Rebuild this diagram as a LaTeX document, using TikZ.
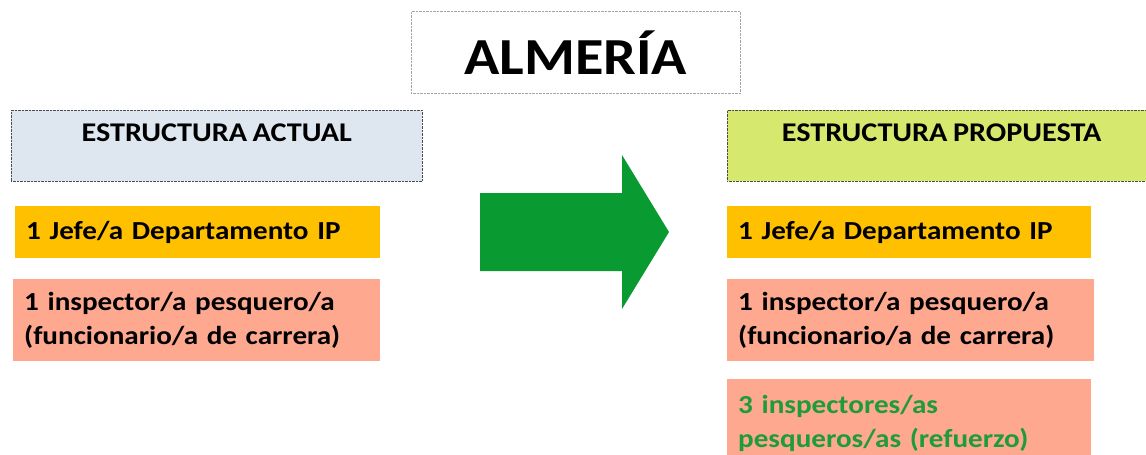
\documentclass[tikz,border=0pt]{standalone}
\usepackage{fontspec}
\setmainfont{Carlito}[FakeStretch=1.12,WordSpace=0.8]
\usetikzlibrary{positioning}

\definecolor{hdrblue}{HTML}{DEE6EF}
\definecolor{hdrlime}{HTML}{D6E96E}
\definecolor{jefegold}{HTML}{FFC000}
\definecolor{inspsalmon}{HTML}{FDA88F}
\definecolor{arrowgreen}{HTML}{0A9A32}
\definecolor{refgreen}{HTML}{1E9B3B}

\begin{document}
\begin{tikzpicture}[x=1pt,y=-1pt,
    every node/.style={font=\bfseries\fontsize{26}{34}\selectfont,inner ysep=0pt},
    titlebox/.style={draw=gray!70,densely dotted,minimum width=329,minimum height=82,anchor=north west},
    header/.style={draw=black!70,densely dotted,minimum width=411,minimum height=71,anchor=north west},
    hdrtext/.style={font=\bfseries\fontsize{27}{34}\selectfont,below=14pt},
    item/.style={anchor=north west,inner xsep=11pt,align=left,draw=none}]

  \useasboundingbox (0,0) rectangle (1146,455);
  \clip (0,0) rectangle (1146,455);

  % title
  \node[titlebox] (title) at (411,11) {};
  \node[font=\bfseries\fontsize{52}{56}\selectfont] (titletxt) at (title.center) {ALMERÍA};

  % current structure
  \node[header,fill=hdrblue] (actual) at (11,110) {};
  \node[hdrtext] at (actual.north) (actualtxt) {ESTRUCTURA ACTUAL};
  \node[item,fill=jefegold,text width=343,minimum height=52] (jefeA) at (15,206) {1 Jefe/a Departamento IP};
  \node[item,fill=inspsalmon,text width=345,minimum height=82] (inspA) at (13,279)
       {1 inspector/a pesquero/a\\(funcionario/a de carrera)};

  % arrow
  \fill[arrowgreen] (480,193) -- (622,193) -- (622,155) -- (669,232)
                    -- (622,309) -- (622,271) -- (480,271) -- cycle;

  % proposed structure
  \node[header,fill=hdrlime,minimum width=429] (propuesta) at (727,110) {};
  \node[hdrtext] at (propuesta.north) (propuestatxt) {ESTRUCTURA PROPUESTA};
  \node[item,fill=jefegold,text width=342,minimum height=52] (jefeB) at (727,206) {1 Jefe/a Departamento IP};
  \node[item,fill=inspsalmon,text width=345,minimum height=82] (inspB) at (727,279)
       {1 inspector/a pesquero/a\\(funcionario/a de carrera)};
  \node[item,fill=inspsalmon,text width=342,minimum height=88,text=refgreen] (refuerzo) at (727,379)
       {3 inspectores/as\\pesqueros/as (refuerzo)};
\end{tikzpicture}
\end{document}
